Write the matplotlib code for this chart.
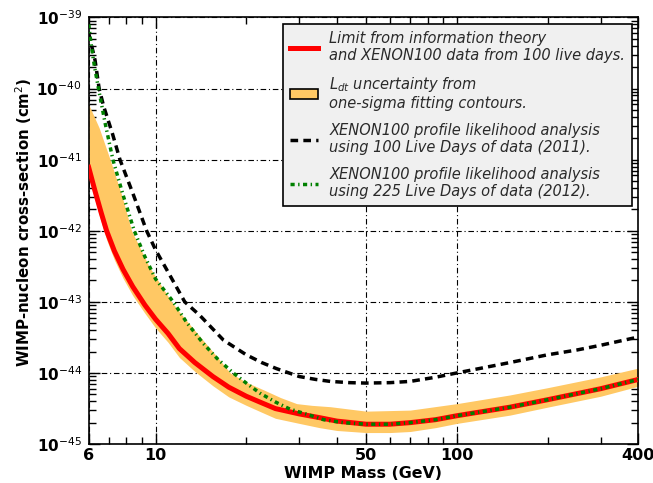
import numpy as np
import matplotlib
matplotlib.use('Agg')
from matplotlib import pyplot as plt
from matplotlib.ticker import FixedLocator, FuncFormatter, LogLocator, NullFormatter
from matplotlib.patches import Patch
from matplotlib.lines import Line2D

# limit from information theory + XENON100 100 live days
limit_mass = [6, 6.3, 6.6, 6.88, 7.3, 7.8, 8.4, 9.22, 10, 11, 12, 13.5, 15.5, 17.5, 20, 22.5, 25, 30, 35, 40,
              50, 60, 70, 85, 100, 150, 200, 300, 400]
limit_xsec = [7.8e-42, 3.6e-42, 1.8e-42, 1e-42, 5.2e-43, 2.87e-43, 1.64e-43, 9e-44, 5.7e-44, 3.6e-44, 2.2e-44,
              1.4e-44, 8.9e-45, 6.3e-45, 4.7e-45, 3.8e-45, 3.15e-45, 2.65e-45, 2.35e-45, 2.1e-45,
              1.9e-45, 1.9e-45, 2.0e-45, 2.2e-45, 2.5e-45, 3.3e-45, 4.2e-45, 6.0e-45, 8.1e-45]

# L_dt one-sigma band edges
band_up_mass = [6, 6.5, 7.07, 7.7, 8.33, 9.5, 11.3, 12.6, 14, 15.8, 17.7, 20, 22.8, 26, 29.4, 33, 38, 50,
                70, 100, 150, 200, 300, 400]
band_up_xsec = [6e-41, 2.8e-41, 1e-41, 3.3e-42, 1e-42, 3.2e-43, 1e-43, 5.6e-44, 3.3e-44, 1.8e-44, 1e-44,
                7.4e-45, 5.8e-45, 4.5e-45, 3.7e-45, 3.5e-45, 3.35e-45, 2.9e-45, 3.0e-45, 3.7e-45,
                4.9e-45, 6.2e-45, 8.8e-45, 1.17e-44]
band_lo_mass = [6, 6.3, 6.6, 6.88, 7.3, 7.8, 8.4, 9.22, 10, 11, 12, 13.5, 15.5, 17.5, 20, 22.5, 25, 30, 35, 40,
                50, 60, 70, 85, 100, 150, 200, 300, 400]
band_lo_xsec = [5.9e-42, 2.7e-42, 1.35e-42, 7.5e-43, 3.9e-43, 2.15e-43, 1.23e-43, 6.9e-44, 4.3e-44, 2.7e-44,
                1.65e-44, 1.05e-44, 6.6e-45, 4.6e-45, 3.5e-45, 2.8e-45, 2.3e-45, 1.95e-45, 1.7e-45, 1.55e-45,
                1.45e-45, 1.45e-45, 1.5e-45, 1.7e-45, 1.95e-45, 2.55e-45, 3.3e-45, 4.7e-45, 6.5e-45]

# XENON100 2011 (100 live days)
x2011_mass = [6, 6.3, 6.5, 6.73, 7.2, 7.62, 8.4, 9.34, 10, 11.2, 12.5, 14, 16.8, 20, 22.5, 25.2, 27.9, 30,
              34, 38, 44, 50, 60, 70, 85, 100, 150, 200, 250, 300, 400]
x2011_xsec = [6e-40, 2.5e-40, 1e-40, 5.6e-41, 2.3e-41, 1e-41, 3.4e-42, 1e-42, 5.4e-43, 2.3e-43, 1e-43,
              6.5e-44, 2.9e-44, 1.8e-44, 1.4e-44, 1.15e-44, 9.9e-45, 8.9e-45, 8.1e-45, 7.6e-45, 7.3e-45,
              7.2e-45, 7.3e-45, 7.6e-45, 8.7e-45, 1.0e-44, 1.4e-44, 1.8e-44, 2.1e-44, 2.45e-44, 3.2e-44]

# XENON100 2012 (225 live days)
x2012_mass = [6, 6.1, 6.26, 6.44, 6.8, 7.22, 7.8, 8.5, 9.2, 10, 11.45, 12.7, 14.4, 16, 18.1, 20, 22.2, 25,
              27.9, 32, 36.1, 42, 50, 60, 70, 85, 100, 150, 200, 300, 400]
x2012_xsec = [8e-40, 4.5e-40, 2.15e-40, 1.1e-40, 3.3e-41, 1e-41, 3.2e-42, 1e-42, 4.4e-43, 2.1e-43, 1e-43,
              5.1e-44, 2.6e-44, 1.6e-44, 1e-44, 7.2e-45, 5.2e-45, 3.9e-45, 3.1e-45, 2.6e-45, 2.2e-45,
              2.0e-45, 1.9e-45, 1.9e-45, 2.0e-45, 2.2e-45, 2.5e-45, 3.3e-45, 4.2e-45, 6.0e-45, 8.1e-45]

x_major = [6, 10, 50, 100, 400]
x_minor = [7, 8, 9, 20, 30, 40, 60, 70, 80, 90, 200, 300]

labels = ['Limit from information theory\nand XENON100 data from 100 live days.',
          '$L_{dt}$ uncertainty from\none-sigma fitting contours.',
          'XENON100 profile likelihood analysis\nusing 100 Live Days of data (2011).',
          'XENON100 profile likelihood analysis\nusing 225 Live Days of data (2012).']

band_color = '#ffc864'
grid_dashes = (5, 2.5, 1, 2.5)

fig = plt.figure(figsize=(6.53, 4.83), dpi=100)
ax = fig.add_axes([0.1358, 0.0807, 0.8417, 0.8831])
ax.set_xscale('log')
ax.set_yscale('log')

# band: fill between the two edges on a shared mass grid
grid = np.array(sorted(set(band_up_mass) | set(band_lo_mass)), dtype=float)
up = 10 ** np.interp(np.log10(grid), np.log10(band_up_mass), np.log10(band_up_xsec))
lo = 10 ** np.interp(np.log10(grid), np.log10(band_lo_mass), np.log10(band_lo_xsec))
ax.fill_between(grid, lo, up, color=band_color, lw=0, zorder=2)

ax.plot(limit_mass, limit_xsec, color='red', lw=3.6, solid_joinstyle='round', zorder=3)
ax.plot(x2011_mass, x2011_xsec, color='black', lw=2.5, dashes=(2.2, 1.5), zorder=4)
ax.plot(x2012_mass, x2012_xsec, color='green', lw=2.5, dashes=(1.2, 1.0, 0.4, 1.0), zorder=4)

ax.set_xlim(6, 400)
ax.set_ylim(1e-45, 1e-39)

ax.xaxis.set_major_locator(FixedLocator(x_major))
ax.xaxis.set_minor_locator(FixedLocator(x_minor))
ax.xaxis.set_major_formatter(FuncFormatter(lambda v, p: '%d' % v))
ax.xaxis.set_minor_formatter(NullFormatter())
ax.yaxis.set_major_locator(LogLocator(base=10, numticks=20))
ax.yaxis.set_minor_locator(LogLocator(base=10, subs=np.arange(2, 10), numticks=20))
ax.yaxis.set_major_formatter(FuncFormatter(
    lambda v, p: r'$\mathbf{10}^{\mathregular{%d}}$' % round(np.log10(v))))
ax.yaxis.set_minor_formatter(NullFormatter())

ax.tick_params(which='both', direction='in', top=True, right=True, width=1.0)
ax.tick_params(which='major', length=8)
ax.tick_params(which='minor', length=5)
ax.tick_params(axis='x', labelsize=11.5, pad=3)
ax.tick_params(axis='y', labelsize=11, pad=5)
for lab in ax.get_xticklabels():
    lab.set_fontweight('bold')
for s in ax.spines.values():
    s.set_linewidth(1.2)

ax.grid(True, which='major', color='black', ls='-.', lw=0.8, dashes=grid_dashes, zorder=1)
ax.set_axisbelow(True)

ax.set_xlabel('WIMP Mass (GeV)', fontsize=11.4, fontweight='bold')
ax.xaxis.set_label_coords(0.5, -0.052)
ax.set_ylabel('WIMP-nucleon cross-section (cm$^2$)', fontsize=10.8, fontweight='bold')
ax.yaxis.set_label_coords(-0.1, 0.52)

handles = [Line2D([], [], color='red', lw=3.6),
           Patch(facecolor=band_color, edgecolor='black', lw=1.2),
           Line2D([], [], color='black', lw=2.5, dashes=(2.2, 1.5)),
           Line2D([], [], color='green', lw=2.5, dashes=(1.2, 1.0, 0.4, 1.0))]
leg = ax.legend(handles, labels, loc='upper right', prop={'style': 'italic', 'size': 10.5},
                fancybox=False, framealpha=1, facecolor='#f0f0f0', edgecolor='black',
                handlelength=1.9, handletextpad=0.8, labelspacing=0.8, borderpad=0.45,
                borderaxespad=0.45)
leg.get_frame().set_linewidth(1.2)
for t in leg.get_texts():
    t.set_color('#2a2a2a')

fig.savefig('out.png', dpi=100)
